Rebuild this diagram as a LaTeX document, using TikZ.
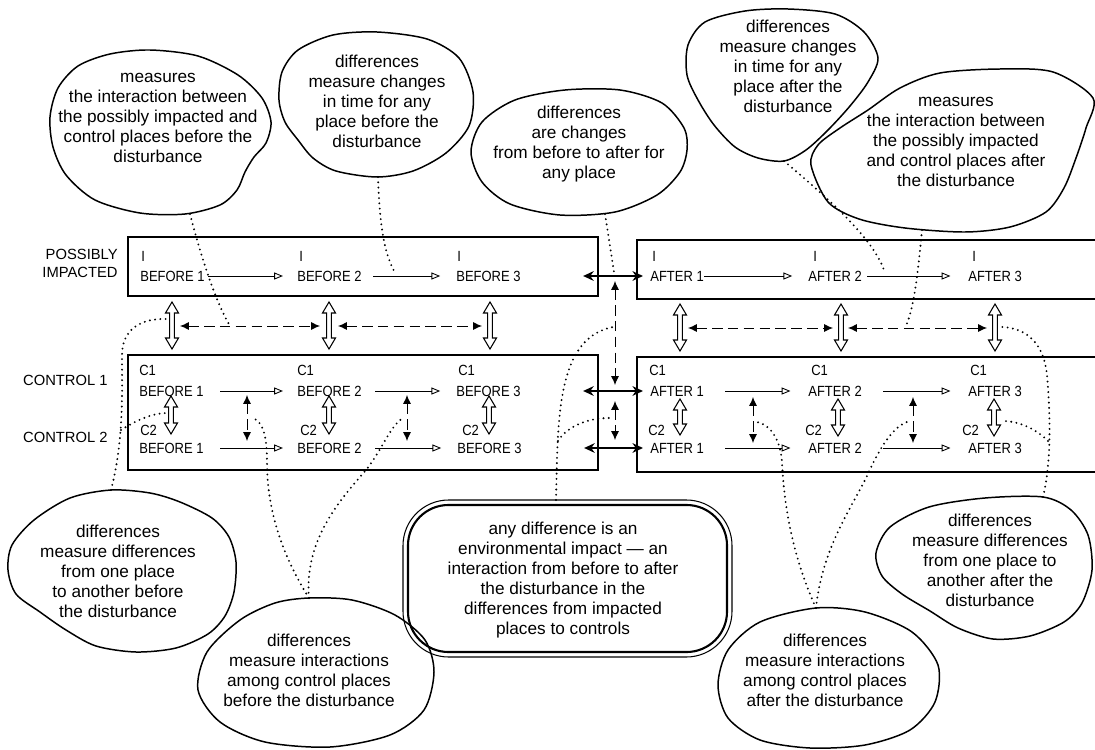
\documentclass[tikz,border=0pt]{standalone}
\usepackage{fontspec}
\setmainfont{Liberation Sans}
\newfontfamily\boxfont[FakeStretch=0.88]{Liberation Sans}
\usetikzlibrary{calc,arrows.meta}
\def\blockarrow[#1](#2)(#3){\draw[#1] (#2) -- ($(#2)+(6.5,11)$) -- ($(#2)+(2.3,11)$) -- ($(#3)+(2.3,-11)$) -- ($(#3)+(6.5,-11)$) -- (#3) -- ($(#3)+(-6.5,-11)$) -- ($(#3)+(-2.3,-11)$) -- ($(#2)+(-2.3,11)$) -- ($(#2)+(-6.5,11)$) -- cycle;}
\tikzset{
	note/.style={align=center, inner sep=0pt, font=\fontsize{9.8}{11.4}\selectfont},
	slot/.style={anchor=west, inner sep=0pt, font=\boxfont\fontsize{8.4}{10}\selectfont},
	rowname/.style={anchor=east, align=right, inner sep=0pt, font=\fontsize{8.4}{10.2}\selectfont},
	cloudline/.style={line width=0.85pt},
	boxline/.style={line width=0.9pt},
	flow/.style={line width=0.5pt, shorten >=9pt, -{Triangle[open,length=5pt,width=4pt]}},
	bigarrow/.style={line width=1.5pt, shorten <=35.4pt, shorten >=4pt, {Stealth[length=6pt,width=5.5pt]}-{Stealth[length=6pt,width=5.5pt]}},
	dasharrow/.style={line width=0.55pt, dash pattern=on 6pt off 3pt, {Latex[length=5pt,width=4.5pt]}-{Latex[length=5pt,width=4.5pt]}},
	pointer/.style={line width=1.2pt, line cap=round, dash pattern=on 0pt off 3pt},
	hollow/.style={line width=0.6pt, fill=white}
}

\begin{document}
\begin{tikzpicture}[x=0.02cm, y=-0.02cm]
		%%%%% START %%%%%
		\useasboundingbox (0,0) rectangle (1095,750);
		
		% boxes
		\draw[boxline] (128,237) rectangle (598,296);
		\draw[boxline] (1095,240) -| (637,299) -- (1095,299);
		\draw[boxline] (128,355) rectangle (598,470);
		\draw[boxline] (1095,357) -| (637,472) -- (1095,472);
		
		\node[rowname] (possibly) at (118,263) {POSSIBLY\\IMPACTED};
		\node[rowname] (control1) at (108,380) {CONTROL 1};
		\node[rowname] (control2) at (108,437) {CONTROL 2};
		
		% impacted places
		\node[slot] (tagIB1) at (141,256) {I};
		\node[slot] (ib1) at (140,276) {BEFORE 1};
		\node[slot] (tagIB2) at (299,256) {I};
		\node[slot] (ib2) at (297,276) {BEFORE 2};
		\node[slot] (tagIB3) at (457,256) {I};
		\node[slot] (ib3) at (456,276) {BEFORE 3};
		\node[slot] (tagIA1) at (652,256) {I};
		\node[slot] (ia1) at (650,276) {AFTER 1};
		\node[slot] (tagIA2) at (813,256) {I};
		\node[slot] (ia2) at (808,276) {AFTER 2};
		\node[slot] (tagIA3) at (972,256) {I};
		\node[slot] (ia3) at (968,276) {AFTER 3};
		
		% control places
		\node[slot] (tagC1B1) at (139,370) {C1};
		\node[slot] (c1b1) at (139,391) {BEFORE 1};
		\node[slot] (tagC2B1) at (140,430) {C2};
		\node[slot] (c2b1) at (139,448) {BEFORE 1};
		\node[slot] (tagC1B2) at (297,370) {C1};
		\node[slot] (c1b2) at (297,391) {BEFORE 2};
		\node[slot] (tagC2B2) at (300,430) {C2};
		\node[slot] (c2b2) at (297,448) {BEFORE 2};
		\node[slot] (tagC1B3) at (458,370) {C1};
		\node[slot] (c1b3) at (456,391) {BEFORE 3};
		\node[slot] (tagC2B3) at (462,430) {C2};
		\node[slot] (c2b3) at (457,448) {BEFORE 3};
		\node[slot] (tagC1A1) at (649,370) {C1};
		\node[slot] (c1a1) at (650,391) {AFTER 1};
		\node[slot] (tagC2A1) at (648,430) {C2};
		\node[slot] (c2a1) at (650,448) {AFTER 1};
		\node[slot] (tagC1A2) at (811,370) {C1};
		\node[slot] (c1a2) at (808,391) {AFTER 2};
		\node[slot] (tagC2A2) at (805,430) {C2};
		\node[slot] (c2a2) at (808,448) {AFTER 2};
		\node[slot] (tagC1A3) at (970,370) {C1};
		\node[slot] (c1a3) at (968,391) {AFTER 3};
		\node[slot] (tagC2A3) at (962,430) {C2};
		\node[slot] (c2a3) at (968,448) {AFTER 3};
		
		% changes in time
		\draw[flow, shorten <=2pt, shorten >=8pt] (ib1) -- (ib2);
		\draw[flow, shorten <=6.5pt] (ib2) -- (ib3);
		\draw[flow, shorten <=0pt] (ia1) -- (ia2);
		\draw[flow, shorten <=3pt, shorten >=10pt] (ia2) -- (ia3);
		\draw[flow, shorten <=9.4pt, shorten >=8pt] (c1b1) -- (c1b2);
		\draw[flow, shorten <=7.6pt] (c1b2) -- (c1b3);
		\draw[flow, shorten <=12pt, shorten >=10pt] (c1a1) -- (c1a2);
		\draw[flow, shorten <=12pt, shorten >=10pt] (c1a2) -- (c1a3);
		\draw[flow, shorten <=9.4pt, shorten >=8pt] (c2b1) -- (c2b2);
		\draw[flow, shorten <=7.6pt] (c2b2) -- (c2b3);
		\draw[flow, shorten <=12pt, shorten >=10pt] (c2a1) -- (c2a2);
		\draw[flow, shorten <=12pt, shorten >=10pt] (c2a2) -- (c2a3);
		
		% before to after
		\draw[bigarrow] (ib3) -- (ia1);
		\draw[bigarrow] (c1b3) -- (c1a1);
		\draw[bigarrow] (c2b3) -- (c2a1);
		
		% impacted to controls
		\blockarrow[hollow](172,302)(172,349)
		\blockarrow[hollow](329,302)(329,349)
		\blockarrow[hollow](490,302)(490,349)
		\blockarrow[hollow](680,304)(680,351)
		\blockarrow[hollow](841,304)(841,351)
		\blockarrow[hollow](995,304)(995,351)
		\blockarrow[hollow](171,396)(171,434)
		\blockarrow[hollow](329,396)(329,434)
		\blockarrow[hollow](489,396)(489,434)
		\blockarrow[hollow](680,399)(680,435)
		\blockarrow[hollow](838,399)(838,436)
		\blockarrow[hollow](994,399)(994,436)
		
		% interactions
		\draw[dasharrow] (180,326) -- (320,326);
		\draw[dasharrow] (338,326) -- (482,326);
		\draw[dasharrow] (688,328) -- (833,328);
		\draw[dasharrow] (848,328) -- (987,328);
		\draw[dasharrow] (247,395) -- (247,441);
		\draw[dasharrow] (407,395) -- (407,441);
		\draw[dasharrow] (753,397) -- (753,443);
		\draw[dasharrow] (913,397) -- (913,443);
		\draw[dasharrow] (615,281) -- (615,385);
		\draw[dasharrow] (615,401) -- (615,440);
		
		% notes
		\draw[cloudline] plot[smooth cycle, tension=0.5] coordinates {(50,117) (58,88) (78,66) (110,54) (150,50) (198,56) (238,75) (262,98) (271,122) (266,143) (254,157) (245,172) (237,190) (220,205) (185,214) (140,213) (95,200) (66,175) (53,147)};
		\node[note] (intBefore) at (158,118) {measures\\the interaction between\\the possibly impacted and\\control places before the\\disturbance};
		
		\draw[cloudline] plot[smooth cycle, tension=0.5] coordinates {(377,32) (427,39) (459,58) (473,92) (469,126) (446,153) (413,171) (377,177) (336,171) (313,158) (298,140) (285,122) (279,100) (282,72) (298,50) (333,35)};
		\node[note] (timeBefore) at (377,101) {differences\\measure changes\\in time for any\\place before the\\disturbance};
		
		\draw[cloudline] plot[smooth cycle, tension=0.5] coordinates {(471,152) (482,122) (515,100) (565,90) (620,90) (662,103) (684,128) (687,150) (680,172) (657,195) (615,212) (560,215) (510,204) (482,182)};
		\node[note] (beforeAfter) at (579,144) {differences\\are changes\\from before to after for\\any place};
		
		\draw[cloudline] plot[smooth cycle, tension=0.5] coordinates {(788,9) (835,14) (864,32) (878,58) (868,82) (850,106) (828,130) (806,150) (784,161) (758,158) (735,147) (714,125) (698,100) (687,75) (688,45) (705,22) (745,11)};
		\node[note] (timeAfter) at (788,66) {differences\\measure changes\\in time for any\\place after the\\disturbance};
		
		\draw[cloudline] plot[smooth cycle, tension=0.5] coordinates {(811,165) (818,145) (840,128) (868,110) (900,88) (940,73) (1000,69) (1053,72) (1093,98) (1086,128) (1076,158) (1064,188) (1046,212) (1010,227) (965,232) (905,228) (859,219) (828,202)};
		\node[note] (intAfter) at (956,142) {measures\\the interaction between\\the possibly impacted\\and control places after\\the disturbance};
		
		\draw[cloudline] plot[smooth cycle, tension=0.5] coordinates {(111,490) (150,493) (180,502) (212,518) (229,537) (236,562) (234,592) (225,616) (208,634) (176,648) (136,652) (96,646) (66,630) (40,612) (16,594) (8,570) (12,545) (34,520) (70,498)};
		\node[note] (placeBefore) at (118,571) {differences\\measure differences\\from one place\\to another before\\the disturbance};
		
		\draw[cloudline] plot[smooth cycle, tension=0.5] coordinates {(309,598) (352,600) (395,615) (425,640) (434,672) (424,710) (390,735) (330,747) (265,742) (220,722) (198,690) (207,652) (240,620) (275,603)};
		\node[note] (ctrlBefore) at (309,670) {differences\\measure interactions\\among control places\\before the disturbance};
		
		\draw[line width=0.6pt, rounded corners=26pt] (403,500) rectangle (732,657);
		\draw[line width=1.2pt, rounded corners=23pt] (408,505) rectangle (727,652);
		\node[note] (impact) at (563,580) {any difference is an\\environmental impact — an\\interaction from before to after\\the disturbance in the\\differences from impacted\\places to controls};
		
		\draw[cloudline] plot[smooth cycle, tension=0.5] coordinates {(816,608) (865,612) (912,632) (938,665) (935,702) (910,730) (865,745) (810,748) (760,740) (728,718) (718,685) (728,650) (760,622)};
		\node[note] (ctrlAfter) at (825,670) {differences\\measure interactions\\among control places\\after the disturbance};
		
		\draw[cloudline] plot[smooth cycle, tension=0.5] coordinates {(1043,497) (1071,510) (1088,535) (1092,570) (1082,603) (1064,622) (1030,636) (993,639) (958,628) (930,611) (902,594) (882,576) (876,553) (890,527) (929,507) (985,498)};
		\node[note] (placeAfter) at (990,560) {differences\\measure differences\\from one place to\\another after the\\disturbance};
		
		% pointers
		\coordinate (intBefore-tip) at (190,214);
		\coordinate (intBefore-end) at (230,326);
		\coordinate (timeBefore-tip) at (378,177);
		\coordinate (timeBefore-end) at (394,271);
		\coordinate (beforeAfter-tip) at (605,214);
		\coordinate (beforeAfter-end) at (614,272);
		\coordinate (timeAfter-tip) at (784,161);
		\coordinate (timeAfter-end) at (885,273);
		\coordinate (intAfter-tip) at (922,230);
		\coordinate (intAfter-end) at (905,328);
		\coordinate (placeBefore-tip) at (111,490);
		\coordinate (placeBefore-fork) at (121,430);
		\coordinate (placeBefore-endA) at (167,319);
		\coordinate (placeBefore-endB) at (167,413);
		\coordinate (ctrlBefore-tip) at (309,598);
		\coordinate (ctrlBefore-endA) at (253,418);
		\coordinate (ctrlBefore-endB) at (403,418);
		\coordinate (impact-tip) at (556,500);
		\coordinate (impact-fork) at (558,441);
		\coordinate (impact-endA) at (613,327);
		\coordinate (impact-endB) at (609,418);
		\coordinate (ctrlAfter-tip) at (816,608);
		\coordinate (ctrlAfter-endA) at (757,422);
		\coordinate (ctrlAfter-endB) at (907,422);
		\coordinate (placeAfter-tip) at (1043,497);
		\coordinate (placeAfter-fork) at (1048,441);
		\coordinate (placeAfter-endA) at (1002,327);
		\coordinate (placeAfter-endB) at (1002,421);
		
		\draw[pointer] (intBefore-tip) .. controls (200,253) and (215,301) .. (intBefore-end);
		\draw[pointer] (timeBefore-tip) .. controls (380,235) and (386,255) .. (timeBefore-end);
		\draw[pointer] (beforeAfter-tip) -- (beforeAfter-end);
		\draw[pointer] (timeAfter-tip) .. controls (830,200) and (875,240) .. (timeAfter-end);
		\draw[pointer] (intAfter-tip) .. controls (918,272) and (914,310) .. (intAfter-end);
		\draw[pointer] (placeBefore-tip) .. controls (124,440) and (122,390) .. (122,355) .. controls (122,330) and (140,318) .. (placeBefore-endA);
		\draw[pointer] (placeBefore-fork) .. controls (140,418) and (155,413) .. (placeBefore-endB);
		\draw[pointer] (ctrlBefore-tip) .. controls (282,555) and (267,510) .. (267,462) .. controls (267,436) and (263,422) .. (ctrlBefore-endA);
		\draw[pointer] (ctrlBefore-tip) .. controls (304,540) and (340,500) .. (366,470) .. controls (382,450) and (390,426) .. (ctrlBefore-endB);
		\draw[pointer] (impact-tip) .. controls (558,420) and (556,338) .. (impact-endA);
		\draw[pointer] (impact-fork) .. controls (568,425) and (590,418) .. (impact-endB);
		\draw[pointer] (ctrlAfter-tip) .. controls (792,555) and (784,505) .. (782,462) .. controls (780,436) and (768,424) .. (ctrlAfter-endA);
		\draw[pointer] (ctrlAfter-tip) .. controls (822,550) and (850,510) .. (866,478) .. controls (876,456) and (890,428) .. (ctrlAfter-endB);
		\draw[pointer] (placeAfter-tip) .. controls (1052,460) and (1050,410) .. (1047,375) .. controls (1044,345) and (1028,328) .. (placeAfter-endA);
		\draw[pointer] (placeAfter-fork) .. controls (1035,428) and (1018,421) .. (placeAfter-endB);
		%%%%% END %%%%%
\end{tikzpicture}
\end{document}
